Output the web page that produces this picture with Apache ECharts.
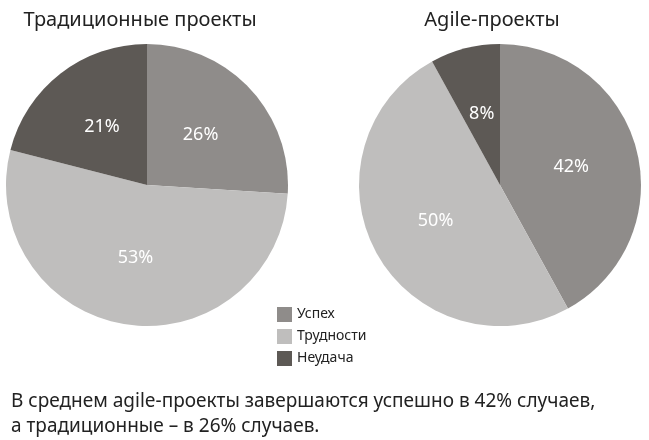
<!DOCTYPE html>
<html><head><meta charset="utf-8">
<script src="https://cdn.jsdelivr.net/npm/echarts@6/dist/echarts.min.js"></script>
<style>html,body{margin:0;padding:0;background:#fff}#c{width:649px;height:440px}</style>
</head><body><div id="c"></div>
<script>
/* Две круговые диаграммы: традиционные vs agile */
const categories = ['Успех', 'Трудности', 'Неудача'];
const traditional = [26, 53, 21];
const agile = [42, 50, 8];
const colors = ['#8f8c8a', '#bfbebd', '#5d5955'];

const chart = echarts.init(document.getElementById('c'));
const font = '"Noto Sans", sans-serif';

function pieSeries(name, values, cx) {
    return {
        type: 'pie',
        name,
        center: [cx, 185],
        radius: [0, 141],
        startAngle: 90,
        clockwise: true,
        animation: false,
        itemStyle: { borderColor: '#fff', borderWidth: 0 },
        label: {
            show: true, position: 'inside', formatter: '{c}%',
            color: '#fff', fontSize: 18, fontFamily: font
        },
        labelLine: { show: false },
        emphasis: { disabled: true },
        data: categories.map((c, i) => ({ name: c, value: values[i], itemStyle: { color: colors[i] } })),
    };
}

chart.setOption({
    title: [
        { text: 'Традиционные проекты', left: 135, top: 5, textAlign: 'center',
          textStyle: { fontSize: 20, fontWeight: 'normal', color: '#222', fontFamily: font } },
        { text: 'Agile-проекты', left: 487, top: 5, textAlign: 'center',
          textStyle: { fontSize: 20, fontWeight: 'normal', color: '#222', fontFamily: font } },
        { text: 'В среднем agile-проекты завершаются успешно в 42% случаев,\nа традиционные – в 26% случаев.',
          left: 6, top: 384,
          textStyle: { fontSize: 19, fontWeight: 'normal', color: '#222', fontFamily: font, lineHeight: 25 } },
    ],
    legend: {
        data: categories, orient: 'vertical', left: 272, top: 302,
        itemWidth: 15, itemHeight: 15, itemGap: 7, icon: 'rect',
        textStyle: { fontSize: 14, color: '#222', fontFamily: font },
    },
    series: [pieSeries('Традиционные', traditional, 147), pieSeries('Agile', agile, 500)],
});
</script></body></html>
